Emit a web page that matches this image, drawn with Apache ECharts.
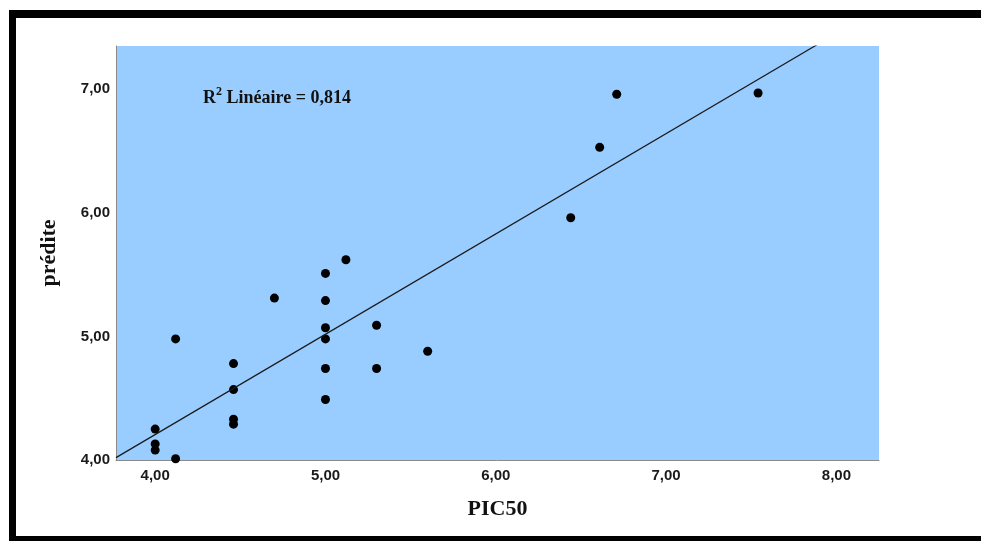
<!DOCTYPE html>
<html>
<head>
<meta charset="utf-8">
<title>PIC50 vs prédite</title>
<script src="https://cdn.jsdelivr.net/npm/echarts@6/dist/echarts.min.js"></script>
<style>
  html, body { margin: 0; padding: 0; background: #ffffff; }
  #chart { width: 981px; height: 541px; }
</style>
</head>
<body>
<div id="chart"></div>
<script>
// Observed PIC50 values and model predictions
const pic50 = [
  4.12, 5.12, 5.00, 4.70, 5.00, 5.00, 5.00, 5.30, 5.60, 4.46, 4.46, 5.00,
  5.30, 5.00, 4.00, 4.46, 4.46, 4.00, 4.00, 4.12, 6.71, 6.61, 6.44, 7.54
];
const predite = [
  4.98, 5.62, 5.51, 5.31, 5.29, 5.07, 4.98, 5.09, 4.88, 4.78, 4.57, 4.74,
  4.74, 4.49, 4.25, 4.33, 4.29, 4.13, 4.08, 4.01, 6.96, 6.53, 5.96, 6.97
];

// Axis ranges and tick step
const xRange = [3.77, 8.25];
const yRange = [4.0, 7.35];
const tickStep = 1;

const fitLabel = 'R² Linéaire = 0,814';
const xName = 'PIC50';
const yName = 'prédite';

// Least-squares fit of predite on pic50
function linearFit(xs, ys) {
  const n = xs.length;
  const mx = xs.reduce((s, v) => s + v, 0) / n;
  const my = ys.reduce((s, v) => s + v, 0) / n;
  let sxy = 0, sxx = 0;
  for (let i = 0; i < n; i++) {
    sxy += (xs[i] - mx) * (ys[i] - my);
    sxx += (xs[i] - mx) * (xs[i] - mx);
  }
  const slope = sxy / sxx;
  return { slope, intercept: my - slope * mx };
}
const fit = linearFit(pic50, predite);
const fitLine = xRange.map(x => [x, fit.intercept + fit.slope * x]);

const points = pic50.map((x, i) => [x, predite[i]]);

const tickFormatter = v =>
  Math.abs(v - Math.round(v)) < 1e-6 ? v.toFixed(2).replace('.', ',') : '';

const labelStyle = {
  fontFamily: 'Liberation Sans, Arial, sans-serif',
  fontSize: 15,
  fontWeight: 'bold',
  color: '#1a1a1a'
};
const nameStyle = {
  fontFamily: 'Liberation Serif, Times New Roman, serif',
  fontSize: 22,
  fontWeight: 'bold',
  color: '#111111'
};

const chart = echarts.init(document.getElementById('chart'), null, { renderer: 'canvas' });

chart.setOption({
  animation: false,
  backgroundColor: '#ffffff',
  grid: {
    left: 116, right: 102, top: 46, bottom: 81,
    show: true,
    backgroundColor: '#99ccff',
    borderWidth: 0
  },
  xAxis: {
    type: 'value',
    min: xRange[0],
    max: xRange[1],
    splitNumber: 4,
    name: xName,
    nameLocation: 'middle',
    nameGap: 38,
    nameTextStyle: nameStyle,
    axisLine: { show: true, lineStyle: { color: '#8a8a8a', width: 1 } },
    axisTick: { show: false },
    splitLine: { show: false },
    axisLabel: Object.assign({ margin: 8, formatter: tickFormatter }, labelStyle)
  },
  yAxis: {
    type: 'value',
    min: yRange[0],
    max: yRange[1],
    interval: tickStep,
    name: yName,
    nameLocation: 'middle',
    nameGap: 56,
    nameTextStyle: nameStyle,
    axisLine: { show: true, lineStyle: { color: '#8a8a8a', width: 1 } },
    axisTick: { show: false },
    splitLine: { show: false },
    axisLabel: Object.assign({ margin: 6, formatter: tickFormatter, showMaxLabel: false }, labelStyle)
  },
  graphic: [
    // page frame
    { type: 'rect', shape: { x: 9, y: 10, width: 972, height: 8 }, style: { fill: '#000' } },
    { type: 'rect', shape: { x: 9, y: 10, width: 7, height: 531 }, style: { fill: '#000' } },
    { type: 'rect', shape: { x: 9, y: 536, width: 972, height: 5 }, style: { fill: '#000' } },
    // fit annotation
    {
      type: 'text',
      x: 203,
      y: 98,
      style: {
        text: '{b|R}{s|2}{b| Linéaire = 0,814}',
        verticalAlign: 'middle',
        rich: {
          b: {
            fontFamily: 'Liberation Serif, Times New Roman, serif',
            fontSize: 18, fontWeight: 'bold', fill: '#111', lineHeight: 24
          },
          s: {
            fontFamily: 'Liberation Serif, Times New Roman, serif',
            fontSize: 12, fontWeight: 'bold', fill: '#111', lineHeight: 12,
            verticalAlign: 'top'
          }
        }
      }
    }
  ],
  series: [
    {
      name: fitLabel,
      type: 'line',
      data: fitLine,
      symbol: 'none',
      clip: true,
      silent: true,
      lineStyle: { color: '#1a1a1a', width: 1.2 }
    },
    {
      name: yName,
      type: 'scatter',
      data: points,
      symbol: 'circle',
      symbolSize: 9,
      clip: true,
      itemStyle: { color: '#000000', opacity: 1 }
    }
  ]
});
</script>
</body>
</html>
